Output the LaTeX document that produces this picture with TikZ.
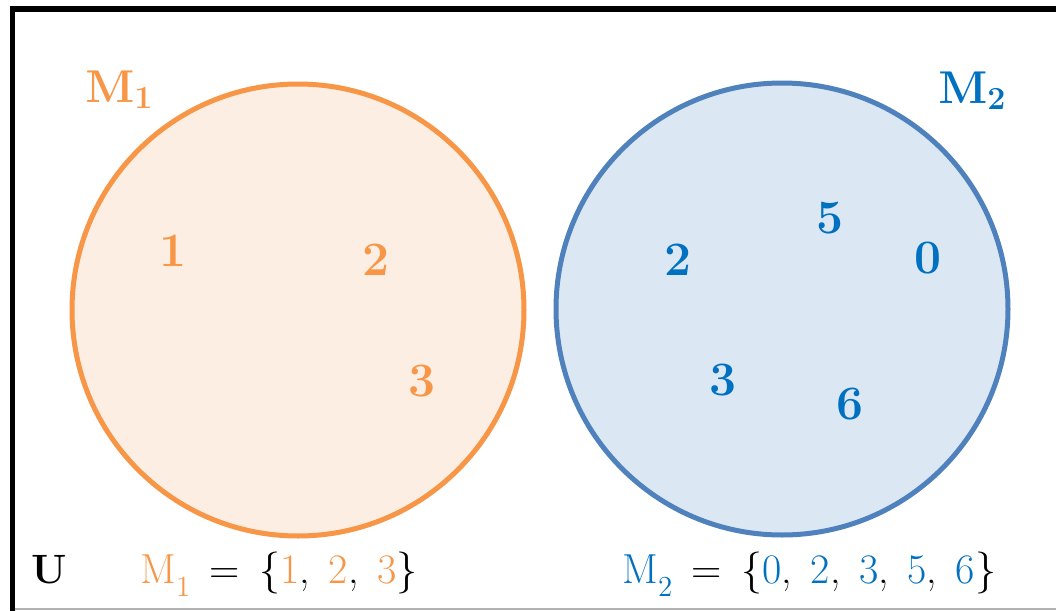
\documentclass[tikz,border=0pt]{standalone}
\usepackage{fix-cm}
\usetikzlibrary{positioning}

\definecolor{setorange}{HTML}{F79646}
\definecolor{orangefill}{HTML}{FDEEE4}
\definecolor{setblue}{HTML}{4F81BD}
\definecolor{bluefill}{HTML}{DBE8F4}
\definecolor{elemblue}{HTML}{0070C0}

% subscript and spacing in text mode
\newcommand{\setsub}[1]{\raisebox{-0.32em}{\fontsize{14.5}{16}\selectfont #1}}
\newcommand{\eqsp}{\hspace{9.7pt}}
\newcommand{\csp}{,\hspace{9.3pt}}

\begin{document}
\begin{tikzpicture}[
    x=0.5pt, y=-0.5pt,
    venn/.style={circle, line width=2.5pt, minimum size=226pt, inner sep=0pt},
    elem/.style={inner sep=0pt, font=\fontsize{24}{28}\selectfont\bfseries},
    setlabel/.style={inner sep=0pt, anchor=base west, font=\fontsize{23}{28}\selectfont\boldmath},
    setdef/.style={inner sep=0pt, anchor=base west, font=\fontsize{21}{24}\selectfont},
]
\useasboundingbox (0,0) rectangle (1056,611);

% Universe frame
\draw[gray!60, line width=0.8pt] (12,609) -- (1056,609);
\draw[line width=2.8pt] (12.5,611) -- (12.5,9) -- (1056,9);

% Set M1
\node[venn, draw=setorange, fill=orangefill] (m1-set) at (298,310) {};
\node[setlabel, text=setorange] (m1-label) at (85,102) {$\mathrm{M}_1$};
\node[elem, text=setorange] (m1-a) at (173,251) {1};
\node[elem, text=setorange] (m1-b) at (376,260) {2};
\node[elem, text=setorange] (m1-c) at (422,381) {3};

% Set M2
\node[venn, draw=setblue, fill=bluefill] (m2-set) at (782,309) {};
\node[setlabel, text=elemblue] (m2-label) at (938,103) {$\mathrm{M}_2$};
\node[elem, text=elemblue] (m2-a) at (678,260) {2};
\node[elem, text=elemblue] (m2-b) at (830,218) {5};
\node[elem, text=elemblue] (m2-c) at (928,258) {0};
\node[elem, text=elemblue] (m2-d) at (723,380) {3};
\node[elem, text=elemblue] (m2-e) at (850,404) {6};

% Definitions
\node[setdef, font=\fontsize{20.5}{24}\selectfont\bfseries] (universe) at (31,583) {U};
\node[setdef] (m1-def) at (140,583)
    {\color{setorange}M\setsub{1}\color{black}\eqsp=\eqsp\{\color{setorange}1\color{black}\csp\color{setorange}2\color{black}\csp\color{setorange}3\color{black}\}};
\node[setdef] (m2-def) at (622,583)
    {\color{elemblue}M\setsub{2}\color{black}\eqsp=\eqsp\{\color{elemblue}0\color{black}\csp\color{elemblue}2\color{black}\csp\color{elemblue}3\color{black}\csp\color{elemblue}5\color{black}\csp\color{elemblue}6\color{black}\}};

\end{tikzpicture}
\end{document}
